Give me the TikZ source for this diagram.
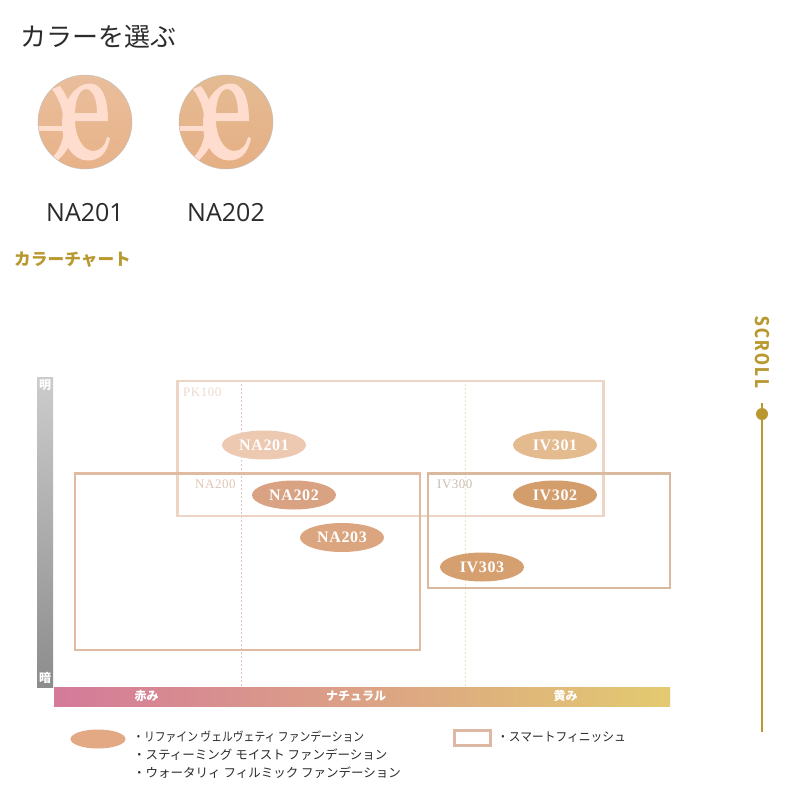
\documentclass[tikz,border=0pt]{standalone}
\usepackage{fontspec}
\usepackage{graphicx}
\usetikzlibrary{shapes.geometric}
\setmainfont{Liberation Serif}
\newfontfamily\cjk{Noto Sans CJK JP}
\newfontfamily\lat{Open Sans}
\newfontfamily\sans[LetterSpace=15]{Fira Sans}
\newfontfamily\chartfont[LetterSpace=4]{Liberation Serif}
\definecolor{pkline}{HTML}{EDD5C6}
\definecolor{naline}{HTML}{E0BBA1}
\definecolor{ivline}{HTML}{DABA9E}
\definecolor{gold}{HTML}{B8982F}
\definecolor{legline}{HTML}{DDB9A3}
\definecolor{logoink}{HTML}{FFDDCE}
\definecolor{ink}{HTML}{2B2B2B}
\definecolor{swAtop}{HTML}{E9BE9C}
\definecolor{swAbot}{HTML}{E8B288}
\definecolor{swBtop}{HTML}{E4BB93}
\definecolor{swBbot}{HTML}{E6AF84}
\definecolor{guideA}{HTML}{DFC2C4}
\definecolor{guideB}{HTML}{EAE3C4}
\definecolor{labPK}{HTML}{EDD9CC}
\definecolor{labNA}{HTML}{DFC5B5}
\definecolor{labIV}{HTML}{C9BCB0}
\definecolor{toneAa}{HTML}{EDC9B1}
\definecolor{toneAb}{HTML}{D9A283}
\definecolor{toneAc}{HTML}{DBA57F}
\definecolor{toneBa}{HTML}{E4BB8F}
\definecolor{toneBb}{HTML}{D39D6C}
\definecolor{toneBc}{HTML}{D69F70}
\definecolor{greyT}{HTML}{CCCCCC}
\definecolor{greyB}{HTML}{8C8C8C}
\definecolor{barL}{HTML}{D47A9A}
\definecolor{barM}{HTML}{DB9F82}
\definecolor{barR}{HTML}{E3CA70}
\definecolor{legfill}{HTML}{E3A985}
\tikzset{
 rangebox/.style={draw=#1,line width=2.8pt,fill=none},
 tone/.style={ellipse,minimum width=84pt,minimum height=29pt,inner sep=0pt,fill=#1,text=white,font=\chartfont\fontsize{16}{16}\selectfont\bfseries},
 rangelabel/.style={font=\chartfont\fontsize{13}{13}\selectfont,anchor=west,text=#1,inner sep=0pt},
 guide/.style={draw=#1,line width=.9pt,dash pattern=on 1.5pt off 2.5pt},
 legendtext/.style={font=\cjk\fontsize{12.5}{12.5}\selectfont,anchor=west,text=ink,inner sep=0pt},
 axislabel/.style={font=\cjk\fontsize{12}{12}\selectfont\bfseries,text=white,inner sep=0pt},
 swatchname/.style={font=\lat\fontsize{25}{25}\selectfont,text=ink,inner sep=0pt},
 logomark/.pic={
  \fill[even odd rule,logoink] (5,-38.5) .. controls (16,-38.5) and (23,-26) .. (23,-1) -- (-10,-1) .. controls (-10,14) and (-2,29) .. (8,29) .. controls (15,29) and (20,24) .. (22,15) -- (25,16) .. controls (22,32) and (14,38.5) .. (3,38.5) .. controls (-12,38.5) and (-23,22) .. (-23,2) .. controls (-23,-20) and (-10,-38.5) .. (5,-38.5) -- cycle
  (1,-33) .. controls (-6,-33) and (-10,-20) .. (-10,-9) -- (12,-9) .. controls (12,-22) and (8,-33) .. (1,-33) -- cycle;
  \fill[logoink] (-33,-33) -- (-25,-36) .. controls (-16,-24) and (-12,-10) .. (-12,6) .. controls (-12,20) and (-18,30) .. (-27,38) -- (-33,36) .. controls (-25,28) and (-21,16) .. (-21,6) .. controls (-21,-10) and (-25,-22) .. (-33,-33) -- cycle;
  \fill[logoink] (-48,4) rectangle (-20,9);
 }
}
\begin{document}
\begin{tikzpicture}[x=1pt,y=-1pt]
\useasboundingbox (0,0) rectangle (800,800);
\fill[white] (0,0) rectangle (800,800);
\node[font=\cjk\fontsize{26}{26}\selectfont,anchor=west,text=ink,inner sep=0pt] (title) at (20.5,37) {カラーを選ぶ};
% swatches
\begin{scope}
\clip (85,122) circle (47);
\shade[top color=swAtop,bottom color=swAbot] (38,75) rectangle (132,169);
\pic at (85,122) {logomark};
\end{scope}
\begin{scope}
\clip (226,122) circle (47);
\shade[top color=swBtop,bottom color=swBbot] (179,75) rectangle (273,169);
\pic at (226,122) {logomark};
\end{scope}
\draw[black!25,line width=.4pt] (85,122) circle (47) (226,122) circle (47);
\node[swatchname] (n201) at (85,213) {NA201};
\node[swatchname] (n202) at (226,213) {NA202};
\node[font=\cjk\fontsize{16.7}{16.7}\selectfont\bfseries,text=gold,anchor=west,inner sep=0pt] (chart) at (14,260) {カラーチャート};
% guides
\coordinate (g1t) at (241,380); \coordinate (g1b) at (241,687);
\coordinate (g2t) at (465,380); \coordinate (g2b) at (465,687);
\draw[guide=guideA] (g1t) -- (g1b);
\draw[guide=guideB] (g2t) -- (g2b);
% range boxes
\draw[rangebox=pkline] (177.5,381) rectangle (603.5,516);
\draw[rangebox=naline] (75,473.5) rectangle (420,650);
\draw[rangebox=ivline] (428,473.5) rectangle (670,588);
\node[rangelabel=labPK] (pk) at (183,392.5) {PK100};
\node[rangelabel=labNA] (na) at (195,484.5) {NA200};
\node[rangelabel=labIV] (iv) at (437,484.5) {IV300};
% tones
\node[tone=toneAa] (a1) at (264,445) {NA201};
\node[tone=toneAb] (a2) at (294,495) {NA202};
\node[tone=toneAc] (a3) at (342,537.5) {NA203};
\node[tone=toneBa] (b1) at (555,445) {IV301};
\node[tone=toneBb] (b2) at (555,495) {IV302};
\node[tone=toneBc] (b3) at (482,567) {IV303};
% axes
\shade[top color=greyT,bottom color=greyB] (37,377) rectangle (53,687);
\shade[left color=barL,middle color=barM,right color=barR] (54,687) rectangle (670,706);
\node[axislabel] (light) at (45,385) {明};
\node[axislabel] (dark) at (45,678) {暗};
\node[axislabel] (red) at (146.5,696) {赤み};
\node[axislabel] (nat) at (356,696) {ナチュラル};
\node[axislabel] (yel) at (565.5,696) {黄み};
% legend
\node[ellipse,minimum width=55pt,minimum height=19pt,inner sep=0pt,fill=legfill] (lege) at (98,739) {};
\node[legendtext] (l1) at (133,737) {\scalebox{.865}[1]{・リファイン ヴェルヴェティ ファンデーション}};
\node[legendtext] (l2) at (133,755) {・スティーミング モイスト ファンデーション};
\node[legendtext] (l3) at (133,773) {・ウォータリィ フィルミック ファンデーション};
\draw[legline,line width=3pt] (454,730) rectangle (490.5,745);
\node[legendtext] (l4) at (497,737) {\scalebox{.94}[1]{・スマートフィニッシュ}};
% scroll
\node[font=\sans\fontsize{20}{20}\selectfont\bfseries,text=gold,rotate=-90,inner sep=0pt] (scroll) at (762,352) {\scalebox{.85}[1]{SCROLL}};
\coordinate (st) at (762,403); \coordinate (sb) at (762,732);
\draw[gold,line width=1.8pt] (st) -- (sb);
\node[circle,fill=gold,minimum size=12pt,inner sep=0pt] (dot) at (762,414) {};
\end{tikzpicture}
\end{document}
